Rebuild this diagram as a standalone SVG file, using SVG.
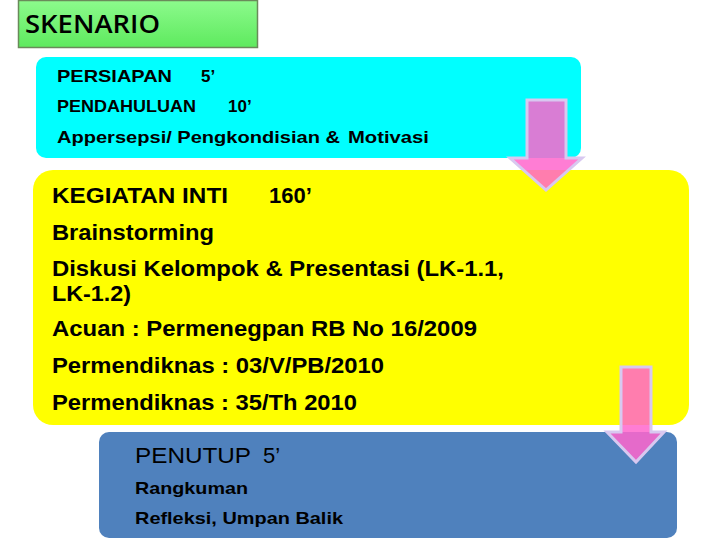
<svg xmlns="http://www.w3.org/2000/svg" width="720" height="540" viewBox="0 0 720 540">
<defs>
<linearGradient id="gGreen" x1="0" y1="0" x2="0" y2="1">
<stop offset="0" stop-color="#8CFA8C"/>
<stop offset="1" stop-color="#5EEA5E"/>
</linearGradient>
<style>
.t{font-family:"Liberation Sans",Arial,sans-serif;font-weight:bold;fill:#000}
.s16{font-size:17px}
.s20{font-size:22px}
.arrow{fill:#FF66CC;fill-opacity:0.85;stroke:#D8C8F0;stroke-width:3;stroke-linejoin:miter}
</style>
</defs>
<rect width="720" height="540" fill="#fff"/>
<g id="title">
<rect x="18.5" y="0.5" width="239" height="47" fill="url(#gGreen)" stroke="#6A8A5A" stroke-width="1.5"/>
<text x="25" y="33" font-family="'Open Sans','Noto Sans',sans-serif" font-size="25" font-weight="600" textLength="135" lengthAdjust="spacingAndGlyphs">SKENARIO</text>
</g>
<g id="persiapan">
<rect x="36" y="57" width="545" height="101" rx="10" fill="#00FFFF"/>
<text class="t s16" x="57" y="82"><tspan textLength="115" lengthAdjust="spacingAndGlyphs">PERSIAPAN</tspan><tspan x="201">5’</tspan></text>
<text class="t s16" x="57" y="112"><tspan textLength="139" lengthAdjust="spacingAndGlyphs">PENDAHULUAN</tspan><tspan x="228">10’</tspan></text>
<text class="t s16" x="57" y="143"><tspan textLength="283" lengthAdjust="spacingAndGlyphs">Appersepsi/ Pengkondisian &amp;</tspan><tspan x="348" textLength="81" lengthAdjust="spacingAndGlyphs">Motivasi</tspan></text>
</g>
<g id="inti">
<rect x="33" y="170" width="656" height="255" rx="20" fill="#FFFF00"/>
<text class="t s20" x="52" y="203"><tspan textLength="176" lengthAdjust="spacingAndGlyphs">KEGIATAN INTI</tspan><tspan x="269">160’</tspan></text>
<text class="t s20" x="52" y="240" textLength="162" lengthAdjust="spacingAndGlyphs">Brainstorming</text>
<text class="t s20" x="52" y="276" textLength="452" lengthAdjust="spacingAndGlyphs">Diskusi Kelompok &amp; Presentasi (LK-1.1,</text>
<text class="t s20" x="52" y="301" textLength="79" lengthAdjust="spacingAndGlyphs">LK-1.2)</text>
<text class="t s20" x="52" y="336" textLength="425" lengthAdjust="spacingAndGlyphs">Acuan : Permenegpan RB No 16/2009</text>
<text class="t s20" x="52" y="373" textLength="332" lengthAdjust="spacingAndGlyphs">Permendiknas : 03/V/PB/2010</text>
<text class="t s20" x="52" y="410" textLength="305" lengthAdjust="spacingAndGlyphs">Permendiknas : 35/Th 2010</text>
</g>
<g id="penutup">
<rect x="99" y="432" width="578" height="106" rx="10" fill="#4F81BD"/>
<text x="135" y="463" font-family="'Liberation Sans',Arial,sans-serif" font-size="22"><tspan textLength="116" lengthAdjust="spacingAndGlyphs">PENUTUP</tspan><tspan x="263">5’</tspan></text>
<text class="t s16" x="135" y="494" textLength="113" lengthAdjust="spacingAndGlyphs">Rangkuman</text>
<text class="t s16" x="135" y="524" textLength="208" lengthAdjust="spacingAndGlyphs">Refleksi, Umpan Balik</text>
</g>
<g id="connectors">
<path class="arrow" d="M527,100 H566 V158 H582 L546,190 L510,158 H527 Z"/>
<path class="arrow" d="M621,367 H651 V432 H664 L636,462 L607,432 H621 Z"/>
</g>
</svg>
